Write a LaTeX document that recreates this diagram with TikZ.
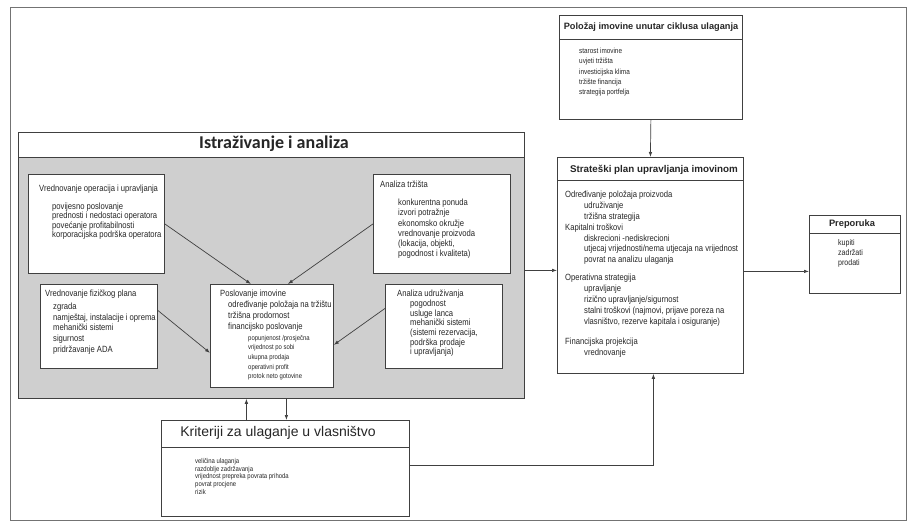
\documentclass[tikz,border=0pt]{standalone}
\usepackage{fontspec}
\setmainfont{Liberation Sans}
\newfontfamily\narfont[FakeStretch=0.85]{Liberation Sans}
\newfontfamily\carfont{Carlito}
\usetikzlibrary{arrows.meta}
\begin{document}
\begin{tikzpicture}[x=1pt,y=-1pt,
  box/.style={draw=black!75,line width=0.8pt,fill=white,inner sep=0pt,anchor=north west},
  txt/.style={anchor=north west,inner sep=0pt,align=left,text=black!85},
  body/.style={txt,font=\narfont\fontsize{9}{#1}\selectfont},
  small/.style={txt,font=\narfont\fontsize{7}{#1}\selectfont},
  head/.style={font=\bfseries\fontsize{#1}{11}\selectfont,text=black!85,inner sep=0pt},
  arr/.style={draw=black!75,line width=0.7pt,-{Latex[length=5pt,width=3.5pt]}},
  conn/.style={draw=black!75,line width=0.7pt}]
\useasboundingbox (0,0) rectangle (913,524);
\fill[white] (0,0) rectangle (913,524);
\draw[black!55,line width=0.6pt] (10,7) rectangle (906,520);

% boxes
\node[box,minimum width=183pt,minimum height=104pt] (pol) at (559,15) {};
\node[box,minimum width=186pt,minimum height=216pt] (str) at (557,157) {};
\node[box,minimum width=91pt,minimum height=78pt] (pre) at (809,215) {};
\node[box,fill=gray!38,minimum width=506pt,minimum height=266pt] (ist) at (18,132) {};
\draw[draw=black!75,line width=0.8pt,fill=white] (ist.north west) rectangle ([yshift=-25pt]ist.north east);
\node[box,minimum width=136pt,minimum height=99pt] (vo) at (28,174) {};
\node[box,minimum width=137pt,minimum height=99pt] (at) at (373,174) {};
\node[box,minimum width=117pt,minimum height=84pt] (vf) at (40,284) {};
\node[box,minimum width=123pt,minimum height=103pt] (pi) at (210,284) {};
\node[box,minimum width=117pt,minimum height=84pt] (au) at (385,284) {};
\node[box,minimum width=248pt,minimum height=96pt] (kr) at (161,420) {};

% header rules
\draw[conn] ([yshift=-24pt]pol.north west) -- ([yshift=-24pt]pol.north east);
\draw[conn] ([yshift=-23pt]str.north west) -- ([yshift=-23pt]str.north east);
\draw[conn] ([yshift=-18pt]pre.north west) -- ([yshift=-18pt]pre.north east);
\draw[conn] ([yshift=-27pt]kr.north west) -- ([yshift=-27pt]kr.north east);

% titles
\node[head=9.2] (polT) at (651,27) {Položaj imovine unutar ciklusa ulaganja};
\node[head=9.8] (strT) at (654,170) {Strateški plan upravljanja imovinom};
\node[head=9.3] (preT) at (852,224.5) {Preporuka};
\node[font=\carfont\bfseries\fontsize{18}{20}\selectfont,text=black!85,inner sep=0pt] (istT) at (274,144) {Istraživanje i analiza};
\node[font=\fontsize{14}{16}\selectfont,text=black!85,inner sep=0pt] (krT) at (278,433) {Kriteriji za ulaganje u vlasništvo};

% texts
\node[body=10] (voT) at (39,184.5) {Vrednovanje operacija i upravljanja};
\node[body=8.3] (voL) at (52,202.5) {povijesno poslovanje\\prednosti i nedostaci operatora\\povećanje profitabilnosti\\korporacijska podrška operatora};

\node[body=10] (atT) at (380,181) {Analiza tržišta};
\node[body=10.2] (atL) at (398,199) {konkurentna ponuda\\izvori potražnje\\ekonomsko okružje\\vrednovanje proizvoda\\(lokacija, objekti,\\pogodnost i kvaliteta)};

\node[body=10] (vfT) at (45,290) {Vrednovanje fizičkog plana};
\node[body=10.8] (vfL) at (53,302.5) {zgrada\\namještaj, instalacije i oprema\\mehanički sistemi\\sigurnost\\pridržavanje ADA};

\node[body=10] (piT) at (220,290) {Poslovanje imovine};
\node[body=11] (piL) at (228,301) {određivanje položaja na tržištu\\tržišna prodornost\\financijsko poslovanje};
\node[small=9.6] (piS) at (248,335) {popunjenost /prosječna\\vrijednost po sobi\\ukupna prodaja\\operativni profit\\protok neto gotovine};

\node[body=10] (auT) at (397,290) {Analiza udruživanja};
\node[body=9.6] (auL) at (410,300) {pogodnost\\usluge lanca\\mehanički sistemi\\(sistemi rezervacija,\\podrška prodaje\\i upravljanja)};

\node[txt,font=\narfont\fontsize{7.5}{10.3}\selectfont] (polL) at (579,48) {starost imovine\\uvjeti tržišta\\investicijska klima\\tržište financija\\strategija portfelja};

\node[body=10.8] (s1) at (565,191) {Određivanje položaja proizvoda\\\hspace*{19pt}udruživanje\\\hspace*{19pt}tržišna strategija};
\node[body=10.6] (s2) at (565,224) {Kapitalni troškovi\\\hspace*{19pt}diskrecioni -nediskrecioni\\\hspace*{19pt}utjecaj vrijednosti/nema utjecaja na vrijednost\\\hspace*{19pt}povrat na analizu ulaganja};
\node[body=11] (s3) at (565,274) {Operativna strategija\\\hspace*{19pt}upravljanje\\\hspace*{19pt}rizično upravljanje/sigurnost\\\hspace*{19pt}stalni troškovi (najmovi, prijave poreza na\\\hspace*{19pt}vlasništvo, rezerve kapitala i osiguranje)};
\node[body=11] (s4) at (565,338) {Financijska projekcija\\\hspace*{19pt}vrednovanje};

\node[txt,font=\narfont\fontsize{8.3}{10}\selectfont] (preL) at (838,239) {kupiti\\zadržati\\prodati};

\node[small=7.6] (krL) at (195,458.4) {veličina ulaganja\\razdoblje zadržavanja\\vrijednost prepreka povrata prihoda\\povrat procjene\\rizik};

% connectors
\draw[arr] (pol.south) -- (str.north);
\draw[arr] ([yshift=-5pt]ist.east) -- ([yshift=-5pt]str.west);
\draw[arr] ([yshift=-6pt]str.east) -- ([yshift=-17pt]pre.west);
\draw[arr] ([yshift=3pt]kr.east) -| ([xshift=3pt]str.south);
\draw[arr] (vo.east) -- ([xshift=-21pt]pi.north);
\draw[arr] (at.west) -- ([xshift=16pt]pi.north);
\draw[arr] ([yshift=16pt]vf.east) -- ([yshift=-17pt]pi.west);
\draw[arr] ([yshift=18pt]au.west) -- ([yshift=-9pt]pi.east);
\draw[arr] ([xshift=-39pt]kr.north) -- ([xshift=-25pt]ist.south);
\draw[arr] ([xshift=15pt]ist.south) -- ([xshift=1pt]kr.north);
\end{tikzpicture}
\end{document}
